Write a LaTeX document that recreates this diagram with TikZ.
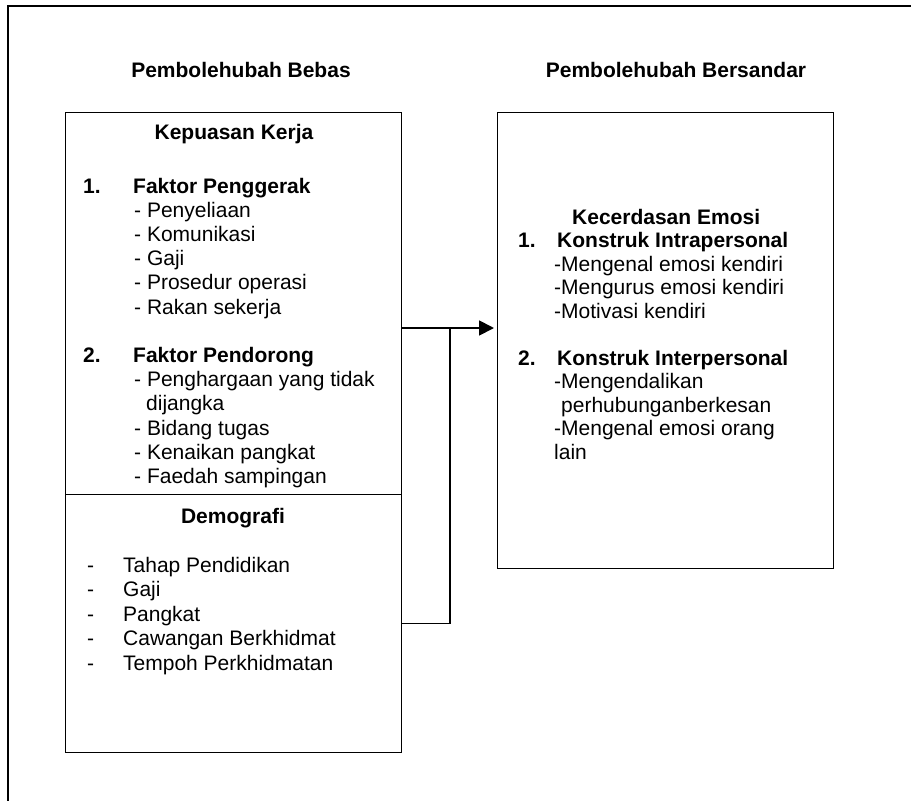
\documentclass[tikz,border=0pt]{standalone}
\usepackage{fontspec}
\setmainfont{Liberation Sans}
\usetikzlibrary{arrows.meta}
\begin{document}
\begin{tikzpicture}[x=1bp,y=-1bp,
  box/.style={draw, line width=1.2bp, fill=white, inner sep=0pt, anchor=north west},
  txt/.style={anchor=base west, inner sep=0pt, font=\fontsize{21bp}{24bp}\selectfont},
  btxt/.style={anchor=base west, inner sep=0pt, font=\fontsize{21bp}{24bp}\selectfont\bfseries},
  ctitle/.style={anchor=base, inner sep=0pt, font=\fontsize{21bp}{24bp}\selectfont\bfseries},
  conn/.style={line width=1.2bp},
  arr/.style={line width=1.8bp, -{Triangle[length=15bp,width=15bp]}}]
\useasboundingbox (0,0) rectangle (911,801);
\draw[line width=2.2bp] (8,801) -- (8,6) -- (911,6);

% titles
\node[ctitle] (t1) at (241,78) {Pembolehubah Bebas};
\node[ctitle] (t2) at (676,78) {Pembolehubah Bersandar};

% boxes
\node[box, minimum width=336bp, minimum height=382bp] (kk) at (65,112) {};
\node[box, minimum width=336bp, minimum height=258bp] (demo) at (65,494) {};
\node[box, minimum width=336bp, minimum height=456bp] (emosi) at (497,112) {};

% Kepuasan Kerja
\node[ctitle] (kkh) at (234,139) {Kepuasan Kerja};
\node[btxt] (n1) at (83,193) {1.};
\node[btxt] (f1) at (133,193) {Faktor Penggerak};
\node[txt] (f1a) at (134,217.2) {- Penyeliaan};
\node[txt] (f1b) at (134,241.4) {- Komunikasi};
\node[txt] (f1c) at (134,265.6) {- Gaji};
\node[txt] (f1d) at (134,289.8) {- Prosedur operasi};
\node[txt] (f1e) at (134,314) {- Rakan sekerja};
\node[btxt] (n2) at (83,362.4) {2.};
\node[btxt] (f2) at (133,362.4) {Faktor Pendorong};
\node[txt] (f2a) at (134,386.6) {- Penghargaan yang tidak};
\node[txt] (f2a2) at (146,410.8) {dijangka};
\node[txt] (f2b) at (134,435) {- Bidang tugas};
\node[txt] (f2c) at (134,459.2) {- Kenaikan pangkat};
\node[txt] (f2d) at (134,483.4) {- Faedah sampingan};

% Demografi
\node[ctitle] (demoh) at (233,523) {Demografi};
\node[txt] (d1) at (87,572) {-};
\node[txt] (d1t) at (123,572) {Tahap Pendidikan};
\node[txt] (d2) at (87,596.5) {-};
\node[txt] (d2t) at (123,596.5) {Gaji};
\node[txt] (d3) at (87,621) {-};
\node[txt] (d3t) at (123,621) {Pangkat};
\node[txt] (d4) at (87,645.5) {-};
\node[txt] (d4t) at (123,645.5) {Cawangan Berkhidmat};
\node[txt] (d5) at (87,670) {-};
\node[txt] (d5t) at (123,670) {Tempoh Perkhidmatan};

% Kecerdasan Emosi
\node[btxt] (keh) at (572,224) {Kecerdasan Emosi};
\node[btxt] (m1) at (518,247.5) {1.};
\node[btxt] (k1) at (557,247.5) {Konstruk Intrapersonal};
\node[txt] (k1a) at (554,271) {-Mengenal emosi kendiri};
\node[txt] (k1b) at (554,294.5) {-Mengurus emosi kendiri};
\node[txt] (k1c) at (554,318) {-Motivasi kendiri};
\node[btxt] (m2) at (518,365) {2.};
\node[btxt] (k2) at (557,365) {Konstruk Interpersonal};
\node[txt] (k2a) at (554,388.5) {-Mengendalikan};
\node[txt] (k2a2) at (561,412) {perhubunganberkesan};
\node[txt] (k2b) at (554,435.5) {-Mengenal emosi orang};
\node[txt] (k2b2) at (554,459) {lain};

% connectors
\coordinate (jn) at (450,328);
\draw[arr, shorten >=3bp] (kk.east |- jn) -- (emosi.west |- jn);
\draw[conn] (demo.east) -| (jn);
\end{tikzpicture}
\end{document}
